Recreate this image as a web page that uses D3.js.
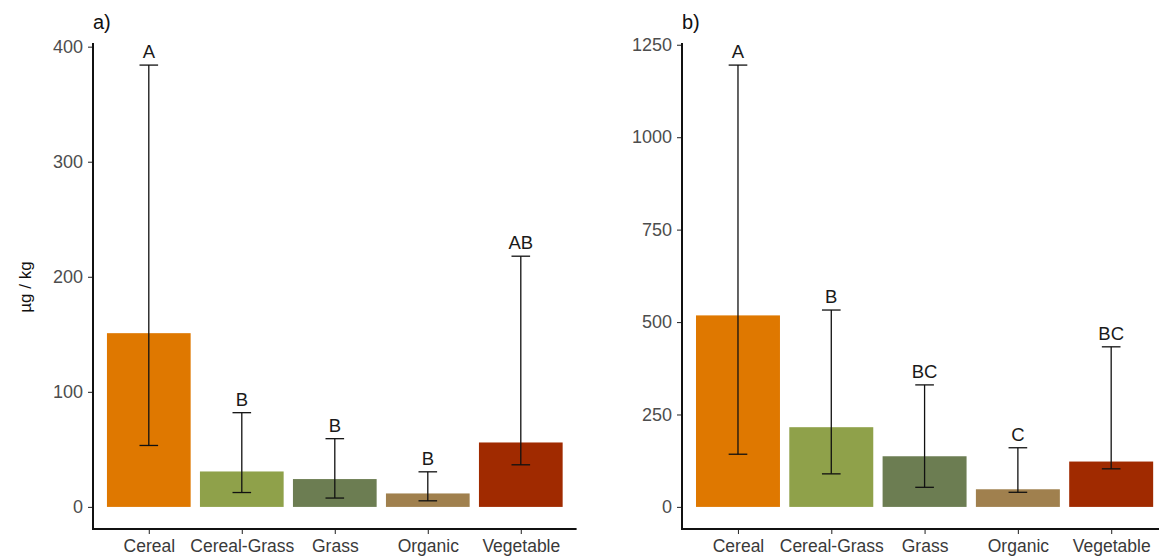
<!DOCTYPE html>
<html>
<head>
<meta charset="utf-8">
<script src="https://cdn.jsdelivr.net/npm/d3@7"></script>
<style>
  html, body { margin: 0; padding: 0; background: #fff; }
  svg { display: block; }
  text { font-family: "Liberation Sans", Arial, sans-serif; }
</style>
</head>
<body>
<svg id="chart" width="1159" height="557"></svg>
<script>
// Crop systems shown on both panels
const categories = ["Cereal", "Cereal-Grass", "Grass", "Organic", "Vegetable"];
const barColors = ["#DF7800", "#8FA14A", "#6C7D52", "#A0804E", "#A02A00"];

// Panel a) — means with lower / upper error limits (µg/kg) and group letters
const meanA  = [151, 30.8, 24.2, 11.7, 56];
const lowerA = [53.4, 12.5, 7.7, 5.3, 36.6];
const upperA = [384, 81.9, 59.3, 30.5, 217.9];
const lettersA = ["A", "B", "B", "B", "AB"];
const ticksA = [0, 100, 200, 300, 400];

// Panel b)
const meanB  = [518, 215.6, 137, 47.7, 122.7];
const lowerB = [142.5, 89.4, 53, 39.5, 103];
const upperB = [1195, 532.5, 330, 160, 433];
const lettersB = ["A", "B", "BC", "C", "BC"];
const ticksB = [0, 250, 500, 750, 1000, 1250];

const svg = d3.select("#chart");
const panelTop = 43, panelBottom = 529;
const FONT = "'Liberation Sans', Arial, sans-serif";

function drawPanel(opts) {
  const { left, step, mean, lower, upper, letters, ticks, title } = opts;
  const width = step * 5.2;
  const g = svg.append("g");

  const x = d3.scalePoint().domain(categories).range([left, left + width]).padding(0.6);
  const maxV = d3.max(upper);
  const y = d3.scaleLinear()
    .domain([-0.05 * maxV, maxV * 1.05])
    .range([panelBottom, panelTop]);

  const rows = categories.map((c, i) => ({
    cat: c, mean: mean[i], lo: lower[i], hi: upper[i], letter: letters[i], color: barColors[i]
  }));

  const barW = step * 0.9, capW = step * 0.2;

  // bars
  g.selectAll("rect.bar").data(rows).enter().append("rect")
    .attr("class", "bar")
    .attr("x", d => x(d.cat) - barW / 2)
    .attr("width", barW)
    .attr("y", d => y(d.mean))
    .attr("height", d => y(0) - y(d.mean))
    .attr("fill", d => d.color);

  // error bars
  const eb = g.selectAll("g.eb").data(rows).enter().append("g").attr("class", "eb")
    .attr("stroke", "#111").attr("stroke-width", 1.3).attr("fill", "none");
  eb.append("line")
    .attr("x1", d => x(d.cat)).attr("x2", d => x(d.cat))
    .attr("y1", d => y(d.lo)).attr("y2", d => y(d.hi));
  eb.append("line")
    .attr("x1", d => x(d.cat) - capW / 2).attr("x2", d => x(d.cat) + capW / 2)
    .attr("y1", d => y(d.hi)).attr("y2", d => y(d.hi));
  eb.append("line")
    .attr("x1", d => x(d.cat) - capW / 2).attr("x2", d => x(d.cat) + capW / 2)
    .attr("y1", d => y(d.lo)).attr("y2", d => y(d.lo));

  // group letters
  g.selectAll("text.letter").data(rows).enter().append("text")
    .attr("class", "letter")
    .attr("x", d => x(d.cat))
    .attr("y", d => y(d.hi) - 7)
    .attr("text-anchor", "middle")
    .attr("font-size", 18.5)
    .attr("fill", "#1a1a1a")
    .text(d => d.letter);

  // y axis
  const yAxis = g.append("g").attr("transform", `translate(${left},0)`)
    .call(d3.axisLeft(y).tickValues(ticks).tickFormat(d3.format("d")).tickSize(5).tickPadding(5));
  yAxis.select(".domain").remove();
  yAxis.selectAll(".tick line").attr("stroke", "#333").attr("stroke-width", 1.1);
  yAxis.selectAll(".tick text").attr("font-size", 18).attr("fill", "#4D4D4D")
    .attr("font-family", FONT);

  // x axis
  const xAxis = g.append("g").attr("transform", `translate(0,${panelBottom})`)
    .call(d3.axisBottom(x).tickSize(5).tickPadding(6));
  xAxis.select(".domain").remove();
  xAxis.selectAll(".tick line").attr("stroke", "#333").attr("stroke-width", 1.1);
  xAxis.selectAll(".tick text").attr("font-size", 17.5).attr("fill", "#3a3a3a")
    .attr("font-family", FONT);

  // axis lines
  g.append("path")
    .attr("d", `M${left},${panelTop}V${panelBottom}H${left + width}`)
    .attr("fill", "none").attr("stroke", "#111").attr("stroke-width", 2);

  // panel tag
  g.append("text")
    .attr("x", left).attr("y", 29)
    .attr("font-size", 20).attr("fill", "#111")
    .text(title);
}

drawPanel({ left: 93, step: 93, mean: meanA, lower: lowerA, upper: upperA,
            letters: lettersA, ticks: ticksA, title: "a)" });
drawPanel({ left: 682, step: 93.3, mean: meanB, lower: lowerB, upper: upperB,
            letters: lettersB, ticks: ticksB, title: "b)" });

// shared y-axis title
svg.append("text")
  .attr("transform", "translate(31,287) rotate(-90)")
  .attr("text-anchor", "middle")
  .attr("font-size", 17)
  .attr("fill", "#111")
  .text("µg / kg");
</script>
</body>
</html>
